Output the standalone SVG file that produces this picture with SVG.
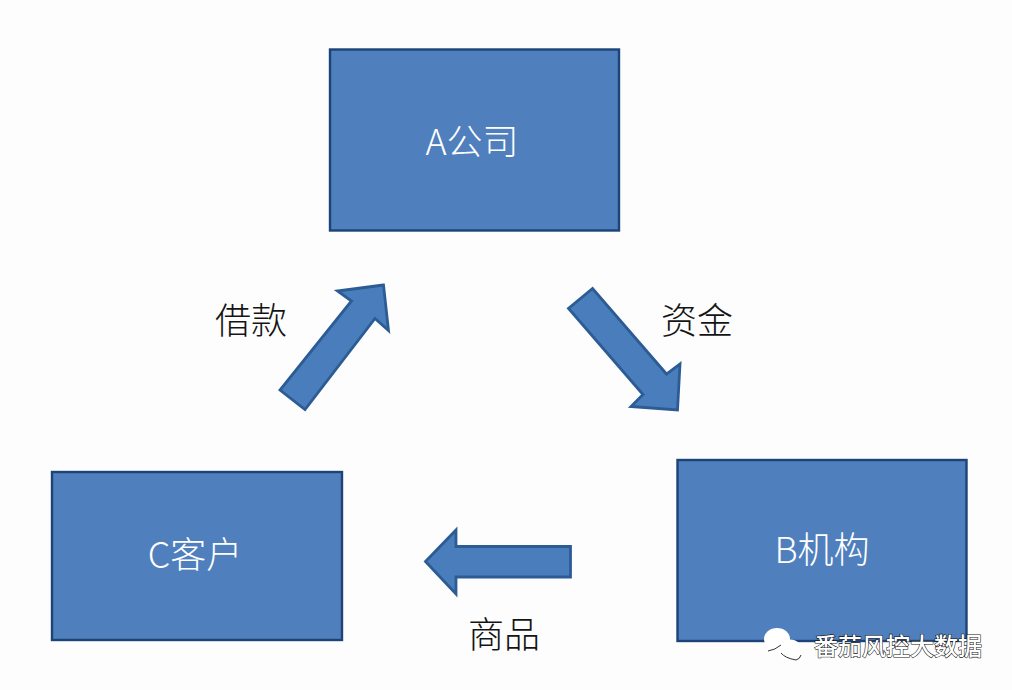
<svg xmlns="http://www.w3.org/2000/svg" width="1012" height="690" viewBox="0 0 1012 690">
<style>
.box{fill:#4f7fbc;stroke:#1c4478;stroke-width:2.4}
.arrow{fill:#4a7dbb;stroke:#2c5c94;stroke-width:2.8;stroke-linejoin:miter}
text{font-family:"Noto Sans CJK SC","Liberation Sans",sans-serif}
.n{fill:#fff;font-size:36px;text-anchor:middle;font-weight:300}
.l{fill:#141414;font-size:36px;text-anchor:middle;font-weight:300}
.wm{fill:#fff;stroke:#111;stroke-width:1.1;paint-order:stroke;font-size:24px;font-weight:500}
</style>
<rect width="1012" height="690" fill="#fdfdfe"/>
<g id="connectors">
<polygon class="arrow" points="383.500,285 337.500,291 351.500,301 280,390 305,409.500 375,318.500 388.500,330.500"/>
<polygon class="arrow" points="592.500,288.500 568.500,308.500 643,394.500 631,406.500 677.500,410 680,364 666.500,374"/>
<polygon class="arrow" points="425.500,561.500 456,530 456,546.500 570.500,546.500 570.500,577 456,577 456,594"/>
</g>
<g id="node-a"><rect class="box" x="330" y="49.500" width="289" height="181"/><text class="n" x="472" y="155">A公司</text></g>
<g id="node-b"><rect class="box" x="677.500" y="460" width="289" height="181"/><text class="n" x="822" y="563">B机构</text></g>
<g id="node-c"><rect class="box" x="52" y="472" width="290" height="168"/><text class="n" x="195" y="568">C客户</text></g>
<g id="label-loan"><text class="l" x="251" y="334">借款</text></g>
<g id="label-funds"><text class="l" x="697" y="334">资金</text></g>
<g id="label-goods"><text class="l" x="504" y="648">商品</text></g>
<g id="watermark">
<ellipse cx="777" cy="639" rx="13" ry="11" fill="#fff"/>
<ellipse cx="790" cy="650" rx="12" ry="10.500" fill="#fff"/>
<path d="M768 651 Q775 650 781 645 M781 653 Q785 658 796 660 Q800 659 801 655" fill="none" stroke="#333" stroke-width="1"/>
<text class="wm" x="814" y="655">番茄风控大数据</text>
</g>
</svg>
